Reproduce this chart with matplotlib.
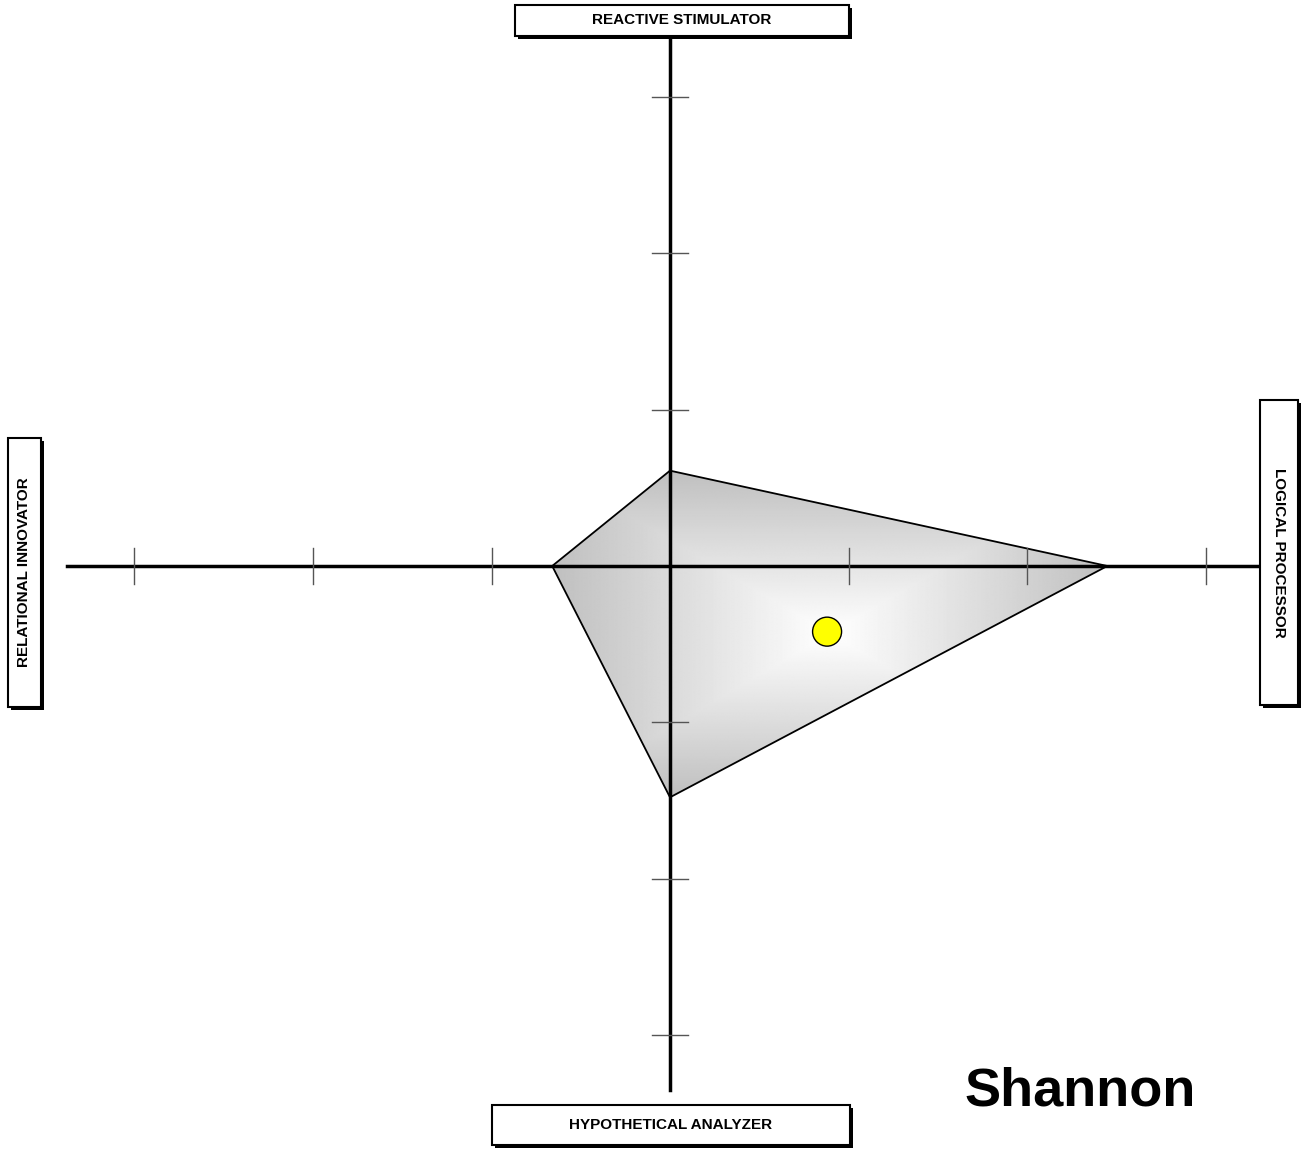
import matplotlib.pyplot as plt
import numpy as np
from matplotlib.patches import Polygon, Rectangle, Ellipse

plt.rcParams['font.family'] = ['Liberation Sans', 'DejaVu Sans']

# quadrant scores (axis units)
axis_names = ['REACTIVE STIMULATOR', 'LOGICAL PROCESSOR', 'HYPOTHETICAL ANALYZER', 'RELATIONAL INNOVATOR']
scores = [0.61, 2.45, 1.48, 0.66]   # top, right, bottom, left
dot_x, dot_y = 0.88, -0.42
ticks = [-3, -2, -1, 1, 2, 3]
name = 'Shannon'

W, H = 1304, 1150
fig = plt.figure(figsize=(W / 100, H / 100), dpi=100)
ax = fig.add_axes([0, 0, 1, 1])
# pixel scale: 178.5 px per unit horizontally, 156.3 px vertically, origin at (670, 566)
ux, uy, cx, cy = 178.5, 156.3, 670, 566
ax.set_xlim(-cx / ux, (W - cx) / ux)
ax.set_ylim(-(H - cy) / uy, cy / uy)
ax.axis('off')

# polygon, filled with a rectangular "from centre" gradient (white -> silver)
top, right, bottom, left = scores
verts = np.array([[0, top], [right, 0], [0, -bottom], [-left, 0]])
poly = Polygon(verts, closed=True, fc='none', ec='black', lw=1.3, zorder=3)
ax.add_patch(poly)

bx = (right - left) / 2
by = (top - bottom) / 2
hw = (right + left) / 2
hh = (top + bottom) / 2
xs = np.linspace(-left, right, 600)
ys = np.linspace(-bottom, top, 400)
XX, YY = np.meshgrid(xs, ys)
t = np.maximum(np.abs(XX - bx) / hw, np.abs(YY - by) / hh)
t = np.clip(t, 0, 1)
shade = 1.0 - 0.25 * t
img = ax.imshow(shade, cmap='gray', vmin=0, vmax=1, origin='lower',
                extent=(-left, right, -bottom, top), aspect='auto', zorder=2,
                interpolation='bilinear')
img.set_clip_path(poly)

# axes
ax.plot([(67 - cx) / ux, (1260 - cx) / ux], [0, 0], color='black', lw=2.5, zorder=4)
ax.plot([0, 0], [(cy - 38) / uy, (cy - 1090) / uy], color='black', lw=2.5, zorder=4)
th_x = 18 / uy
th_y = 18 / ux
for k in ticks:
    ax.plot([k, k], [-th_x, th_x], color='#555555', lw=1, zorder=4)
    ax.plot([-th_y, th_y], [k, k], color='#555555', lw=1, zorder=4)

# centre dot
ax.add_patch(Ellipse((dot_x, dot_y), 29 / ux, 29 / uy,
                     fc='#ffff00', ec='black', lw=1, zorder=5))


def label_box(x0, y0, x1, y1, text, rot):
    # pixel box, top-left origin
    fx = lambda v: v / W
    fy = lambda v: 1 - v / H
    fig.patches.append(Rectangle((fx(x0 + 3), fy(y1 + 3)), fx(x1 - x0), (y1 - y0) / H,
                                 transform=fig.transFigure, fc='black', ec='none', zorder=1))
    fig.patches.append(Rectangle((fx(x0), fy(y1)), fx(x1 - x0), (y1 - y0) / H,
                                 transform=fig.transFigure, fc='white', ec='black', lw=1.5, zorder=2))
    fig.text(fx((x0 + x1) / 2), fy((y0 + y1) / 2), text, ha='center', va='center',
             rotation=rot, fontsize=11, fontweight='bold', zorder=3)


label_box(515, 5, 849, 36, axis_names[0], 0)
label_box(1260, 400, 1298, 705, axis_names[1], 270)
label_box(492, 1105, 850, 1145, axis_names[2], 0)
label_box(8, 438, 41, 707, axis_names[3], 90)

fig.text(1080 / W, 1 - 1092 / H, name, ha='center', va='center', fontsize=39, fontweight='bold')

fig.savefig('out.png', dpi=100)
